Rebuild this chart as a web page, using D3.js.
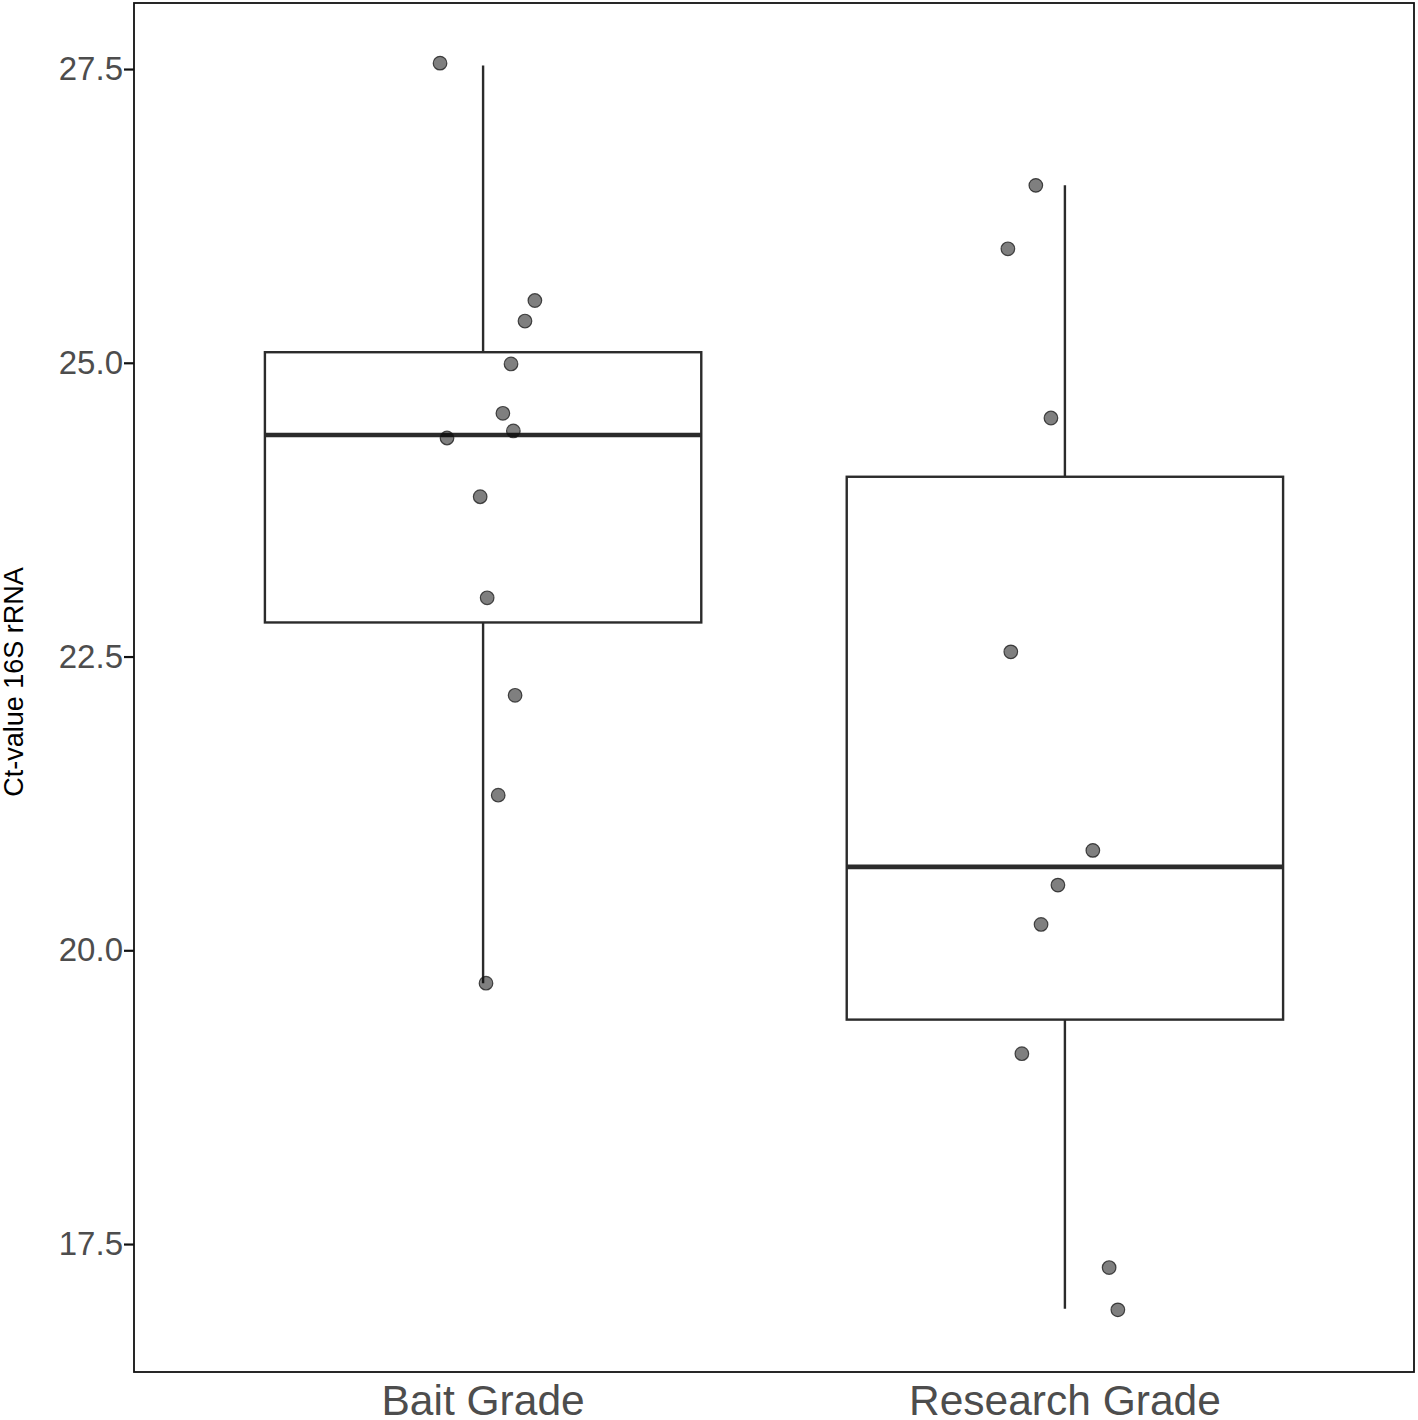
<!DOCTYPE html>
<html>
<head>
<meta charset="utf-8">
<script src="https://cdn.jsdelivr.net/npm/d3@7"></script>
<style>
  body { margin: 0; background: #fff; }
  text { font-family: "Liberation Sans", Arial, Helvetica, sans-serif; }
</style>
</head>
<body>
<div class="chart"></div>
<script>
// Ct-value box plot, two grades

var svgWidth = 1418;
var svgHeight = 1420;

var margin = { top: 3, right: 4, bottom: 48, left: 134 };
var width = svgWidth - margin.left - margin.right;
var height = svgHeight - margin.top - margin.bottom;

// data
var categories = ["Bait Grade", "Research Grade"];
var yTicks = [17.5, 20.0, 22.5, 25.0, 27.5];

// box stats: lower whisker, q1, median, q3, upper whisker
var boxLow = [19.72, 16.95];
var boxQ1 = [22.79, 19.41];
var boxMedian = [24.385, 20.71];
var boxQ3 = [25.09, 24.03];
var boxHigh = [27.53, 26.51];

// jittered points (offset in category units, value)
var baitValues = [27.55, 25.53, 25.355, 24.99, 24.57, 24.42, 24.36, 23.86, 23.0, 22.17, 21.32, 19.72];
var baitJitter = [-0.074, 0.089, 0.072, 0.048, 0.034, 0.052, -0.062, -0.005, 0.007, 0.055, 0.026, 0.005];
var researchValues = [26.51, 25.97, 24.53, 22.54, 20.85, 20.555, 20.22, 19.12, 17.30, 16.94];
var researchJitter = [-0.050, -0.098, -0.024, -0.093, 0.048, -0.012, -0.041, -0.074, 0.076, 0.091];

var svg = d3.select(".chart")
  .append("svg")
  .attr("width", svgWidth)
  .attr("height", svgHeight);

var chartGroup = svg.append("g")
  .attr("transform", `translate(${margin.left}, ${margin.top})`);

// discrete positions 1 and 2 with ggplot-like 0.6 expansion
var xScale = d3.scaleLinear()
  .domain([0.4, categories.length + 0.6])
  .range([0, width]);

var yScale = d3.scaleLinear()
  .domain([16.411, 28.062])
  .range([height, 0]);

var boxWidth = 0.75;

var boxes = categories.map(function(c, i) {
  return { pos: i + 1, low: boxLow[i], q1: boxQ1[i], med: boxMedian[i], q3: boxQ3[i], high: boxHigh[i] };
});

var boxG = chartGroup.selectAll(".box")
  .data(boxes)
  .enter()
  .append("g")
  .attr("class", "box");

// whiskers
boxG.append("line")
  .attr("x1", d => xScale(d.pos)).attr("x2", d => xScale(d.pos))
  .attr("y1", d => yScale(d.q3)).attr("y2", d => yScale(d.high))
  .attr("stroke", "#2b2b2b").attr("stroke-width", 2.4);
boxG.append("line")
  .attr("x1", d => xScale(d.pos)).attr("x2", d => xScale(d.pos))
  .attr("y1", d => yScale(d.q1)).attr("y2", d => yScale(d.low))
  .attr("stroke", "#2b2b2b").attr("stroke-width", 2.4);

// box body
boxG.append("rect")
  .attr("x", d => xScale(d.pos - boxWidth / 2))
  .attr("width", d => xScale(d.pos + boxWidth / 2) - xScale(d.pos - boxWidth / 2))
  .attr("y", d => yScale(d.q3))
  .attr("height", d => yScale(d.q1) - yScale(d.q3))
  .attr("fill", "white")
  .attr("stroke", "#2b2b2b")
  .attr("stroke-width", 2.4);

// median
boxG.append("line")
  .attr("x1", d => xScale(d.pos - boxWidth / 2))
  .attr("x2", d => xScale(d.pos + boxWidth / 2))
  .attr("y1", d => yScale(d.med)).attr("y2", d => yScale(d.med))
  .attr("stroke", "#2b2b2b").attr("stroke-width", 4.6);

// points
var points = [];
baitValues.forEach(function(v, i) { points.push({ pos: 1 + baitJitter[i], value: v }); });
researchValues.forEach(function(v, i) { points.push({ pos: 2 + researchJitter[i], value: v }); });

chartGroup.selectAll("circle")
  .data(points)
  .enter()
  .append("circle")
  .attr("cx", d => xScale(d.pos))
  .attr("cy", d => yScale(d.value))
  .attr("r", 6.8)
  .attr("fill", "rgba(0,0,0,0.5)")
  .attr("stroke", "rgba(20,20,20,0.75)")
  .attr("stroke-width", 1.2);

// panel border
chartGroup.append("rect")
  .attr("x", 0).attr("y", 0)
  .attr("width", width).attr("height", height)
  .attr("fill", "none")
  .attr("stroke", "#111")
  .attr("stroke-width", 1.8);

// y axis
var leftAxis = d3.axisLeft(yScale)
  .tickValues(yTicks)
  .tickFormat(d3.format(".1f"))
  .tickSize(10)
  .tickPadding(1);

var yAxis = chartGroup.append("g").call(leftAxis);
yAxis.select(".domain").remove();
yAxis.selectAll(".tick line").attr("stroke", "#111").attr("stroke-width", 2.2);
yAxis.selectAll(".tick text")
  .attr("fill", "#4d4d4d")
  .style("font-size", "33px");

// x axis labels (no ticks in the picture)
chartGroup.selectAll(".xlabel")
  .data(categories)
  .enter()
  .append("text")
  .attr("class", "xlabel")
  .attr("x", (d, i) => xScale(i + 1))
  .attr("y", height + 43)
  .attr("text-anchor", "middle")
  .attr("fill", "#4d4d4d")
  .style("font-size", "42.5px")
  .text(d => d);

// y title
svg.append("text")
  .attr("transform", `translate(23, 682) rotate(-90)`)
  .attr("text-anchor", "middle")
  .attr("fill", "#000")
  .style("font-size", "27px")
  .text("Ct-value 16S rRNA");
</script>
</body>
</html>
